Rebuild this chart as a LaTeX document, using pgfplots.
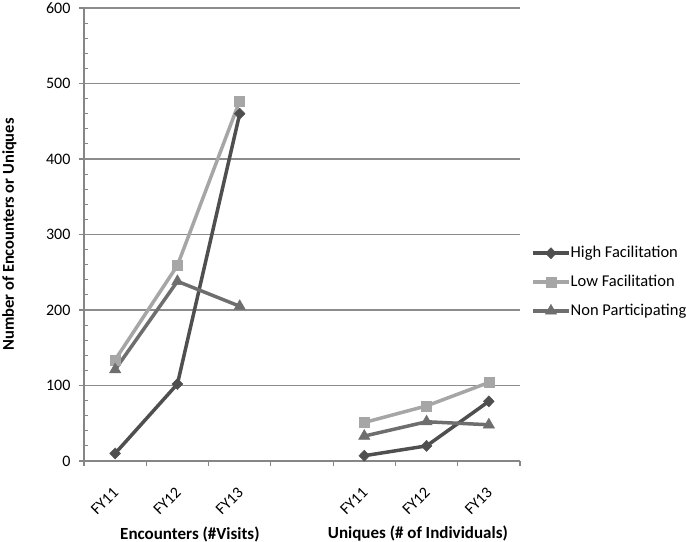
\documentclass[border=0pt]{standalone}
\usepackage{fontspec}
\setmainfont{Carlito}
\usepackage{pgfplots}
\pgfplotsset{compat=1.18}
\definecolor{hiF}{HTML}{4F4F4F}
\definecolor{loF}{HTML}{A6A6A6}
\definecolor{nonP}{HTML}{6E6E6E}
\definecolor{gridgray}{HTML}{8C8C8C}
\definecolor{axisgray}{HTML}{868686}
\begin{document}
\fontsize{16bp}{19bp}\selectfont
\begin{tikzpicture}
\begin{axis}[
	scale only axis,
	width=436bp, height=453bp,
	xmin=-0.5, xmax=6.5,
	ymin=0, ymax=600,
	axis x line*=bottom,
	axis y line*=left,
	axis line style={axisgray, line width=1.2bp},
	ytick={0,100,...,600},
	minor y tick num=4,
	tick align=outside,
	major tick length=5bp,
	minor tick length=4bp,
	minor y tick style={xshift=4bp, axisgray, line width=1bp},
	major tick style={axisgray, line width=1.2bp},
	ymajorgrids,
	major grid style={gridgray, line width=1.2bp},
	xtick={-0.5,0.5,...,6.5},
	xticklabels={},
	extra x ticks={0,1,2,4,5,6},
	extra x tick labels={FY11,FY12,FY13,FY11,FY12,FY13},
	extra x tick style={major tick length=0bp, grid=none,
		x tick label style={xshift=-3bp, yshift=-25bp, rotate=45, anchor=north east, inner sep=0bp}},
	/pgf/number format/assume math mode=true,
	tick label style={font=\fontsize{16bp}{19bp}\selectfont},
	y tick label style={xshift=-3bp, inner ysep=0bp},
	ylabel={\bfseries Number of Encounters or Uniques},
	every axis y label/.style={at={([xshift=-74.5bp]axis description cs:0,0.5)}, rotate=90, anchor=center, inner sep=0bp,
		font=\fontsize{16.5bp}{19bp}\selectfont},
	legend style={at={([xshift=11bp]axis description cs:1,0.395)}, anchor=west,
		draw=none, fill=none, row sep=11bp, inner sep=0bp, nodes={inner xsep=0bp},
		font=\fontsize{16.5bp}{19bp}\selectfont},
	legend cell align=left,
	legend image code/.code={\draw[mark repeat=2,mark phase=2,#1] plot coordinates {(0bp,0bp) (18bp,0bp) (36bp,0bp)};},
	every axis plot/.append style={line width=3.5bp},
	clip=false,
]
% Encounters
\addplot[hiF, mark=diamond*, mark size=5.5bp, mark options={solid, fill=hiF, line width=0.5bp, xscale=1.3}]
	coordinates {(0,10) (1,102) (2,460)};
\addlegendentry{High Facilitation}
\addplot[loF, mark=square*, mark size=5bp, mark options={solid, fill=loF, line width=0.5bp}]
	coordinates {(0,134) (1,259) (2,477)};
\addlegendentry{Low Facilitation}
\addplot[nonP, mark=triangle*, mark size=6.5bp, mark options={solid, fill=nonP, line width=0.5bp}]
	coordinates {(0,121) (1,238) (2,205)};
\addlegendentry{Non Participating}
% Uniques
\addplot[forget plot, hiF, mark=diamond*, mark size=5.5bp, mark options={solid, fill=hiF, line width=0.5bp, xscale=1.3}]
	coordinates {(4,7) (5,20) (6,79)};
\addplot[forget plot, loF, mark=square*, mark size=5bp, mark options={solid, fill=loF, line width=0.5bp}]
	coordinates {(4,51) (5,73) (6,104)};
\addplot[forget plot, nonP, mark=triangle*, mark size=6.5bp, mark options={solid, fill=nonP, line width=0.5bp}]
	coordinates {(4,33) (5,52) (6,48)};
% group labels
\node[font=\fontsize{17bp}{20bp}\selectfont\bfseries, inner sep=0bp] at ([yshift=-73bp]axis cs:1.2,0) {Encounters (\#Visits)};
\node[font=\fontsize{17bp}{20bp}\selectfont\bfseries, inner sep=0bp] at ([yshift=-73bp]axis cs:4.86,0) {Uniques (\# of Individuals)};
\coordinate (ll) at (axis description cs:0,0);
\end{axis}
% fix the page to the reference's frame
\pgfresetboundingbox
\path ([shift={(-84bp,-81bp)}]ll) rectangle ([shift={(602bp,461bp)}]ll);
\end{tikzpicture}
\end{document}
